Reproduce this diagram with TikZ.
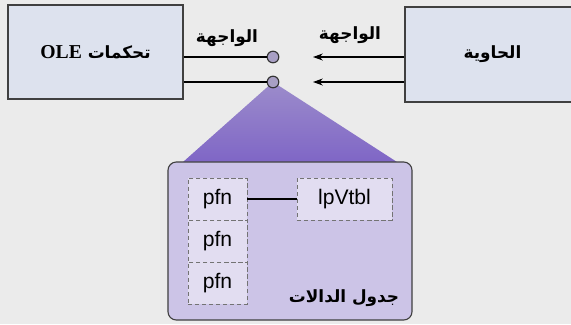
\documentclass[tikz,border=0pt]{standalone}
\usepackage{fontspec}
\setmainfont{Liberation Serif}
\newfontfamily\arabicfont[Script=Arabic]{DejaVu Sans}
\newfontfamily\latinsans{Liberation Sans}
\TeXXeTstate=1
\usetikzlibrary{arrows.meta}
\definecolor{boxblue}{HTML}{DDE2EE}
\definecolor{tablefill}{HTML}{CCC4E7}
\definecolor{cellfill}{HTML}{E2DDF1}
\definecolor{portfill}{HTML}{A89FC4}
\definecolor{wedgetop}{HTML}{9C8CCB}
\definecolor{wedgebot}{HTML}{7F66C6}
\begin{document}
\begin{tikzpicture}[x=0.025cm, y=-0.025cm,
    outerbox/.style={draw=black!75, thick, fill=boxblue, inner sep=0pt},
    cell/.style={draw=black!55, densely dashed, fill=cellfill, minimum width=1.475cm, minimum height=1.05cm, inner sep=0pt, font=\latinsans\fontsize{15}{15}\selectfont},
    port/.style={circle, draw=black!80, thick, fill=portfill, minimum size=0.29cm, inner sep=0pt},
    label/.style={font=\arabicfont\bfseries\fontsize{12}{14}\selectfont}]
        \useasboundingbox[fill=black!8] (0,0) rectangle (571,324);
        % boxes on both sides
        \node[outerbox, minimum width=4.375cm, minimum height=2.35cm] (ole) at (95.5,52)
            {\arabicfont\bfseries\fontsize{12}{14}\selectfont\beginR تحكمات {\rmfamily\bfseries\fontsize{14}{14}\selectfont\beginL OLE\endL}\endR};
        \node[outerbox, minimum width=4.375cm, minimum height=2.375cm] (host) at (492.5,54.5)
            {\arabicfont\bfseries\fontsize{12}{14}\selectfont\beginR الحاوية\endR};
        % triangle behind the table
        \coordinate (baseL) at (183,162);
        \coordinate (baseR) at (397,162);
        \coordinate (apex) at (273,82);
        \shade[top color=wedgetop, bottom color=wedgebot] (apex) -- (baseR) -- (baseL) -- cycle;
        % table of functions
        \node[draw=black!75, thick, fill=tablefill, rounded corners=6pt, minimum width=6.1cm, minimum height=3.95cm] (table) at (290,241) {};
        \node[cell] (pfnA) at (217.5,199) {pfn};
        \node[cell] (pfnB) at (217.5,241) {pfn};
        \node[cell] (pfnC) at (217.5,283) {pfn};
        \node[cell, minimum width=2.375cm] (vtbl) at (344.5,199) {lpVtbl};
        \draw[thick] (pfnA) -- (vtbl);
        \node[label] (tname) at (344,298) {\beginR جدول الدالات\endR};
        % interface ports
        \node[port] (portA) at (273,57) {};
        \node[port] (portB) at (apex) {};
        \draw[thick] (ole.east |- portA) -- (portA);
        \draw[thick] (ole.east |- portB) -- (portB);
        \node[label] (ifL) at (227,38) {\beginR الواجهة\endR};
        % arrows from the container
        \coordinate (tipA) at (313,57);
        \coordinate (tipB) at (313,82);
        \draw[thick, -{Stealth[length=7pt, width=5pt]}] (host.west |- tipA) -- (tipA);
        \draw[thick, -{Stealth[length=7pt, width=5pt]}] (host.west |- tipB) -- (tipB);
        \node[label] (ifR) at (350,35) {\beginR الواجهة\endR};
    \end{tikzpicture}
\end{document}
